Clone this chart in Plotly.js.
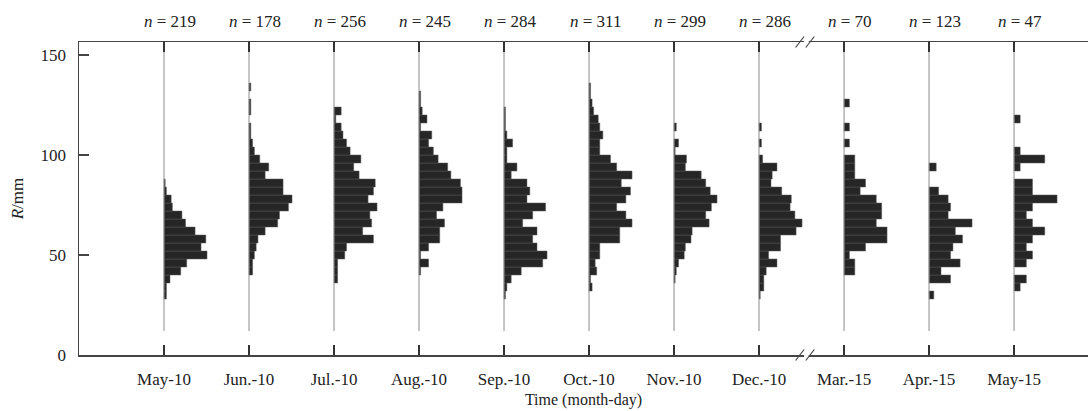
<!DOCTYPE html>
<html>
<head>
<meta charset="utf-8">
<script src="https://cdn.plot.ly/plotly-3.0.1.min.js"></script>
<style>
html,body{margin:0;padding:0;background:#fff;}
#chart{width:1088px;height:411px;}
</style>
</head>
<body>
<div id="chart"></div>
<script>
// ---- data ----
const categories = ['May-10','Jun.-10','Jul.-10','Aug.-10','Sep.-10','Oct.-10','Nov.-10','Dec.-10','Mar.-15','Apr.-15','May-15'];
const nValues = [219,178,256,245,284,311,299,286,70,123,47];
const binWidth = 4; // mm
// lower edge (mm) of the first bin of each group
const binStart = [28,40,36,40,28,32,36,28,40,28,32];
// counts per 4-mm bin, from the lowest bin upward
const may10 = [2,2,5,14,19,36,31,35,26,18,15,7,6,2,1];
const jun10 = [2,2,3,4,5,9,16,17,22,24,19,19,9,11,6,3,2,1,1,0,1,1,0,1];
const jul10 = [2,2,2,6,7,22,16,21,20,24,19,22,23,14,11,15,9,7,5,4,1,4];
const aug10 = [1,6,1,6,13,13,16,11,15,27,27,26,20,18,12,9,6,8,1,5,2,1,1];
const sep10 = [1,2,5,12,27,30,23,20,23,13,20,29,16,18,16,5,9,2,2,6,2,1,1,1];
const oct10 = [2,1,5,4,7,7,20,20,28,24,18,24,27,21,28,18,14,7,7,9,7,6,3,2,1,1];
const nov10 = [1,2,4,9,10,15,16,31,28,33,38,32,28,24,10,11,1,4,0,2];
const dec10 = [1,4,4,6,15,8,18,18,31,36,30,26,27,19,10,11,15,3,0,2,0,2];
const mar15 = [2,2,1,4,8,8,6,7,7,6,3,4,2,2,2,0,1,0,1,0,0,1];
const apr15 = [2,0,9,5,13,9,10,14,11,18,8,9,8,4,0,0,3];
const may15 = [1,2,0,2,3,2,3,5,3,2,3,7,3,3,0,1,5,1,0,0,0,1];
const groupCounts = [may10,jun10,jul10,aug10,sep10,oct10,nov10,dec10,mar15,apr15,may15];
const yTicks = [0,50,100,150];

// ---- style ----
const FONT = "'Liberation Serif','Times New Roman',serif";
const maxLen = 0.506;     // length of the longest bar, in group spacings
const stemBottom = 12;    // lower end of the grey stems (mm)
const yTop = 156.5;

const traces = [];
categories.forEach((c, i) => {
  traces.push({
    type: 'scatter', mode: 'lines', x: [i, i], y: [stemBottom, yTop],
    line: {color: '#8c8c8c', width: 1}, hoverinfo: 'skip', showlegend: false
  });
});
groupCounts.forEach((counts, i) => {
  const mx = Math.max(...counts);
  const ys = [], xs = [], bs = [];
  counts.forEach((v, k) => {
    if (v <= 0) return;
    ys.push(binStart[i] + k * binWidth + binWidth / 2);
    xs.push(v / mx * maxLen);
    bs.push(i);
  });
  traces.push({
    type: 'bar', orientation: 'h', y: ys, x: xs, base: bs, width: binWidth,
    marker: {color: '#262626', line: {color: '#5a5a5a', width: 0.5}},
    name: categories[i], showlegend: false, hoverinfo: 'skip'
  });
});

const annotations = categories.map((c, i) => ({
  x: i, xref: 'x', y: 1, yref: 'paper', yshift: 21, xshift: 6,
  text: '<i>n</i> = ' + nValues[i], showarrow: false,
  font: {family: FONT, size: 17, color: '#222'}, xanchor: 'center', yanchor: 'middle'
}));

// axis break marks between Dec.-10 and Mar.-15
const brk = 7.5;
const shapes = [];
[0, 1].forEach(yp => {
  shapes.push({type: 'rect', xref: 'x', yref: 'paper', ysizemode: 'pixel', yanchor: yp,
    x0: brk + 0.03, x1: brk + 0.085, y0: -2, y1: 2,
    fillcolor: '#fff', line: {width: 0}, layer: 'above'});
  [brk - 0.02, brk + 0.1].forEach(xc => {
    shapes.push({type: 'line', xref: 'x', yref: 'paper', ysizemode: 'pixel', yanchor: yp,
      x0: xc - 0.05, x1: xc + 0.05, y0: -5.5, y1: 5.5,
      line: {color: '#444', width: 1.2}, layer: 'above'});
  });
});

const layout = {
  width: 1088, height: 411,
  margin: {l: 79, r: 0, t: 42, b: 56, pad: 0},
  paper_bgcolor: '#fff', plot_bgcolor: '#fff',
  barmode: 'overlay', bargap: 0,
  showlegend: false,
  font: {family: FONT, color: '#222', size: 17},
  xaxis: {
    range: [-1, 10.87], tickvals: categories.map((c, i) => i), ticktext: categories,
    ticks: 'inside', ticklen: 10, tickwidth: 1.3, tickcolor: '#333',
    showline: true, linecolor: '#444', linewidth: 1.5, mirror: 'ticks',
    showgrid: false, zeroline: false, ticklabelstandoff: 8,
    tickfont: {family: FONT, size: 17, color: '#222'},
    title: {text: 'Time (month-day)', font: {family: FONT, size: 16, color: '#222'}, standoff: 6}
  },
  yaxis: {
    range: [0, yTop], tickvals: yTicks,
    ticks: 'inside', ticklen: 10, tickwidth: 1.3, tickcolor: '#444',
    showline: true, linecolor: '#444', linewidth: 1.5,
    showgrid: false, zeroline: false, ticklabelstandoff: 8,
    tickfont: {family: FONT, size: 17, color: '#222'},
    title: {text: '<i>R</i>/mm', font: {family: FONT, size: 17, color: '#222'}, standoff: 12}
  },
  annotations: annotations,
  shapes: shapes
};

Plotly.newPlot('chart', traces, layout, {displayModeBar: false, staticPlot: true});
</script>
</body>
</html>
